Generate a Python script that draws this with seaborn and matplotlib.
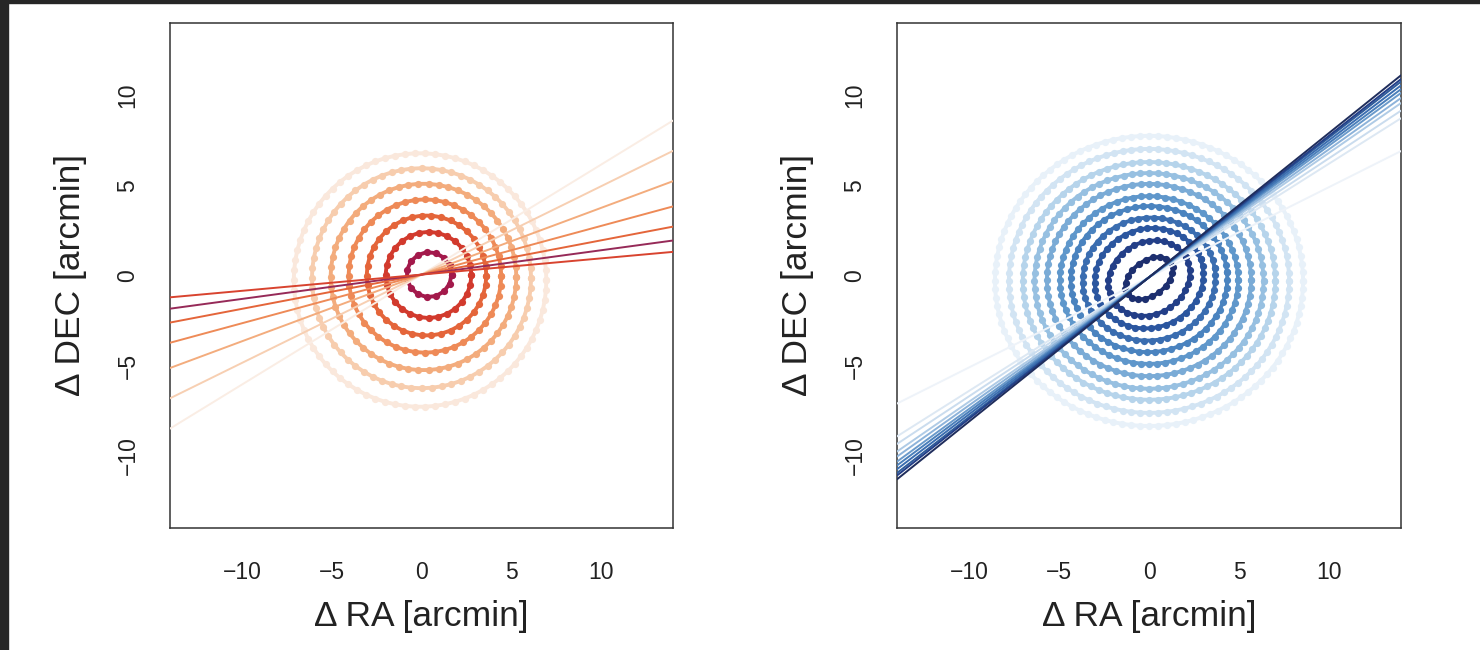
import numpy as np
import pandas as pd
import matplotlib
matplotlib.use("Agg")
import matplotlib.pyplot as plt
from matplotlib.patches import Rectangle
import seaborn as sns

sns.set_style("white")
plt.rcParams['font.family'] = ['Liberation Sans', 'DejaVu Sans']

# ---------------- data ----------------
ticks = [-10, -5, 0, 5, 10]
tick_labels = ["\u221210", "\u22125", "0", "5", "10"]
x_label = "\u0394 RA [arcmin]"
y_label = "\u0394 DEC [arcmin]"

# left panel (reds): rings
red_ring_r = [1.25, 2.39, 3.33, 4.25, 5.17, 6.10, 7.03]
red_ring_ratio = [1.0, 1.0, 1.0, 1.0, 1.0, 1.0, 1.0]
red_ring_angle = [0, 0, 0, 0, 0, 0, 0]
red_ring_cx = [0.42, 0.39, 0.28, 0.19, 0.11, 0.0, -0.08]
red_ring_cy = [0.05, 0.03, 0.0, -0.03, -0.08, -0.15, -0.25]
red_ring_n = [15, 28, 38, 48, 58, 68, 78]
red_ring_col = ['#A3194B', '#D23A2D', '#E4653A', '#EE8A57', '#F3AC7D', '#F7CDAE', '#FAE8DC']
# left panel: fitted lines
red_line_slope = [0.61, 0.49, 0.37, 0.27, 0.19, 0.135, 0.09]
red_line_col = ['#FAEDE4', '#F7CFB2', '#F3AC7D', '#EE8A57', '#E4653A', '#962A58', '#D8432F']

# right panel (blues): rings
blue_ring_r = [1.2, 2.17, 2.9, 3.55, 4.2, 4.8, 5.5, 6.17, 6.8, 7.55, 8.3]
blue_ring_ratio = [0.65, 0.85, 0.9, 0.92, 0.93, 0.94, 0.94, 0.94, 0.94, 0.94, 0.94]
blue_ring_angle = [37, 30, 20, 10, 5, 0, 0, 0, 0, 0, 0]
blue_ring_cx = [0.0, 0.0, 0.0, 0.0, 0.0, 0.0, 0.0, 0.0, 0.0, 0.0, 0.0]
blue_ring_cy = [-0.15, -0.15, -0.15, -0.2, -0.2, -0.25, -0.25, -0.3, -0.3, -0.3, -0.3]
blue_ring_n = [20, 34, 44, 52, 60, 68, 76, 84, 92, 100, 108]
blue_ring_col = ['#1D2F6F', '#233F88', '#2B569F', '#3A6DB0', '#4A83BF', '#5F97CB',
                 '#7AABD6', '#97C0E1', '#B6D4EB', '#D2E4F3', '#E8F1F9']
# right panel: fitted lines
blue_line_slope = [0.50, 0.63, 0.66, 0.69, 0.71, 0.73, 0.745, 0.76, 0.775, 0.785, 0.80]
blue_line_col = ['#EEF3F9', '#DDE8F3', '#CADCEE', '#AFCBE6', '#8DB3DA', '#6A9ACB',
                 '#4A7FBA', '#3A6DB0', '#2E5C9A', '#233F88', '#1F2D5C']

XLIM = (-14, 14)
YLIM = (-14, 14)


def ring_frame(cx, cy, r, ratio, ang, n):
    t = np.linspace(0, 2 * np.pi, n + 1)
    a, b = r / np.sqrt(ratio), r * np.sqrt(ratio)
    th = np.deg2rad(ang)
    u, v = a * np.cos(t), b * np.sin(t)
    return pd.DataFrame({"x": cx + u * np.cos(th) - v * np.sin(th),
                         "y": cy + u * np.sin(th) + v * np.cos(th)})


def draw_panel(ax, rr, rat, ang, cx, cy, nn, rc, slopes, lc, y0):
    for i in range(len(rr) - 1, -1, -1):
        df = ring_frame(cx[i], cy[i], rr[i], rat[i], ang[i], nn[i])
        sns.lineplot(data=df, x="x", y="y", sort=False, estimator=None, ax=ax,
                     color=rc[i], lw=2.8, marker="o", markersize=5.2,
                     markeredgewidth=0, zorder=2 + (len(rr) - i) * 0.01)
    xs = np.array(XLIM, dtype=float)
    for s, c in zip(slopes, lc):
        df = pd.DataFrame({"x": xs, "y": y0 + s * xs})
        sns.lineplot(data=df, x="x", y="y", sort=False, estimator=None, ax=ax,
                     color=c, lw=1.4, zorder=3)
    ax.set_xlim(*XLIM)
    ax.set_ylim(*YLIM)
    ax.set_xticks(ticks)
    ax.set_xticklabels(tick_labels)
    ax.set_yticks(ticks)
    ax.set_yticklabels(tick_labels, rotation=90, va="center")
    ax.tick_params(axis="both", direction="out", length=10, width=1.1,
                   color="#333333", labelsize=16.5, labelcolor="#222222", pad=14)
    ax.tick_params(axis="y", pad=12)
    for sp in ax.spines.values():
        sp.set_color("#333333")
        sp.set_linewidth(1.1)
    ax.set_xlabel(x_label, fontsize=25.5, color="#222222", labelpad=11)
    ax.set_ylabel(y_label, fontsize=25.5, color="#222222", labelpad=21)


fig = plt.figure(figsize=(14.8, 6.5), dpi=100)
fig.patch.set_facecolor("white")
ax1 = fig.add_axes([170 / 1480, 1 - 528 / 650, 503 / 1480, 505 / 650])
ax2 = fig.add_axes([897 / 1480, 1 - 528 / 650, 504 / 1480, 505 / 650])

draw_panel(ax1, red_ring_r, red_ring_ratio, red_ring_angle, red_ring_cx, red_ring_cy,
           red_ring_n, red_ring_col, red_line_slope, red_line_col, 0.05)
draw_panel(ax2, blue_ring_r, blue_ring_ratio, blue_ring_angle, blue_ring_cx, blue_ring_cy,
           blue_ring_n, blue_ring_col, blue_line_slope, blue_line_col, -0.1)

# dark screenshot frame
fig.patches.append(Rectangle((0, 1 - 3 / 650), 1, 3 / 650, transform=fig.transFigure,
                             color="#262626", zorder=10))
fig.patches.append(Rectangle((0, 0), 8 / 1480, 1, transform=fig.transFigure,
                             color="#262626", zorder=10))

fig.savefig("out.png", dpi=100)
